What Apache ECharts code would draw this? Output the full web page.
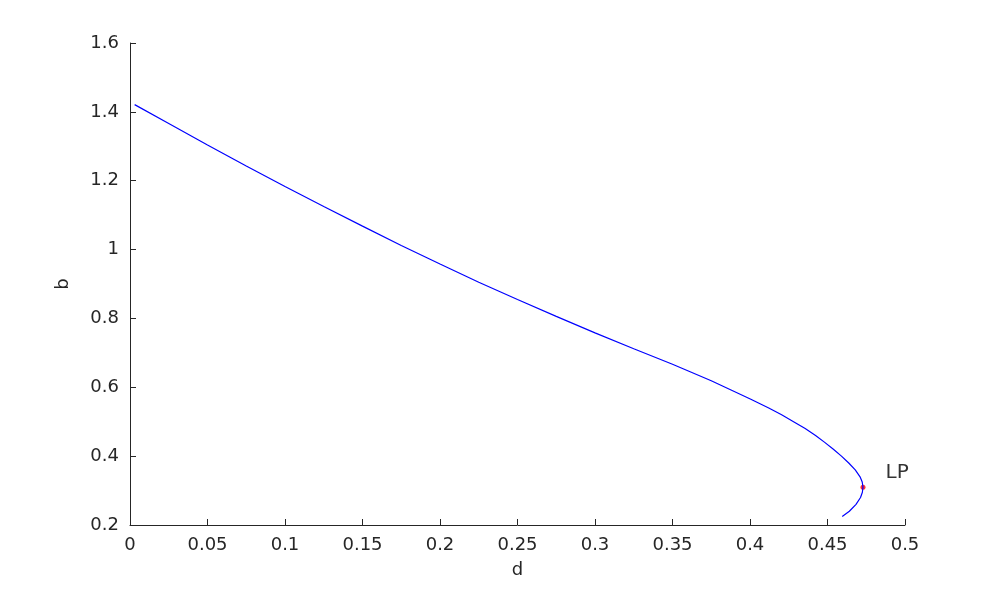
<!DOCTYPE html>
<html>
<head>
<meta charset="utf-8">
<script src="https://cdn.jsdelivr.net/npm/echarts@6/dist/echarts.min.js"></script>
<style>html,body{margin:0;padding:0;background:#fff;}#c{width:999px;height:591px;}</style>
</head>
<body>
<div id="c"></div>
<script>
const dValues = [0.003,0.025,0.05,0.075,0.1,0.125,0.15,0.175,0.2,0.225,0.25,0.275,0.3,0.325,0.35,0.375,0.4002,0.4121,0.4204,0.4281,0.4356,0.4423,0.4482,0.4538,0.4590,0.4637,0.4679,0.4710,0.4724,0.4729,0.4725,0.4713,0.4684,0.4641,0.4595];
const bValues = [1.421,1.366,1.304,1.243,1.183,1.125,1.068,1.012,0.958,0.905,0.855,0.806,0.758,0.712,0.667,0.619,0.566,0.54,0.52,0.50,0.48,0.46,0.44,0.42,0.40,0.38,0.36,0.34,0.325,0.31,0.295,0.28,0.26,0.24,0.225];
const lpPoint = [0.4729, 0.310];
const lpLabel = 'LP';
const xName = 'd';
const yName = 'b';

const curve = dValues.map((d,i)=>[d,bValues[i]]);
const font = '"DejaVu Sans", "Liberation Sans", Arial, sans-serif';
const axisColor = '#262626';
const chart = echarts.init(document.getElementById('c'), null, {renderer:'canvas'});
chart.setOption({
  animation:false,
  backgroundColor:'#fff',
  grid:{left:130,right:94,top:43,bottom:66,containLabel:false},
  xAxis:{
    type:'value', min:0, max:0.5, interval:0.05,
    name:xName, nameLocation:'middle', nameGap:36,
    nameTextStyle:{color:axisColor,fontSize:18,fontFamily:font},
    axisLine:{show:true,lineStyle:{color:axisColor,width:1}},
    axisTick:{show:true,inside:true,length:6,lineStyle:{color:axisColor}},
    axisLabel:{color:axisColor,fontSize:18,fontFamily:font,margin:11,formatter:v=>String(+v.toFixed(2))},
    splitLine:{show:false}
  },
  yAxis:{
    type:'value', min:0.2, max:1.6, interval:0.2,
    name:yName, nameLocation:'middle', nameGap:58, nameRotate:90,
    nameTextStyle:{color:axisColor,fontSize:18,fontFamily:font},
    axisLine:{show:true,lineStyle:{color:axisColor,width:1}},
    axisTick:{show:true,inside:true,length:6,lineStyle:{color:axisColor}},
    axisLabel:{color:axisColor,fontSize:18,fontFamily:font,margin:11,formatter:v=>String(+v.toFixed(1))},
    splitLine:{show:false}
  },
  series:[
    {type:'line',data:curve,showSymbol:false,symbol:'none',smooth:false,lineStyle:{color:'#0000ff',width:1.2},silent:true},
    {type:'scatter',data:[lpPoint],symbol:'circle',symbolSize:5,itemStyle:{color:'#ff0000'},
     label:{show:true,formatter:lpLabel,position:'right',offset:[15,-14],color:'#000',fontSize:20,fontFamily:font}}
  ]
});
</script>
</body>
</html>
